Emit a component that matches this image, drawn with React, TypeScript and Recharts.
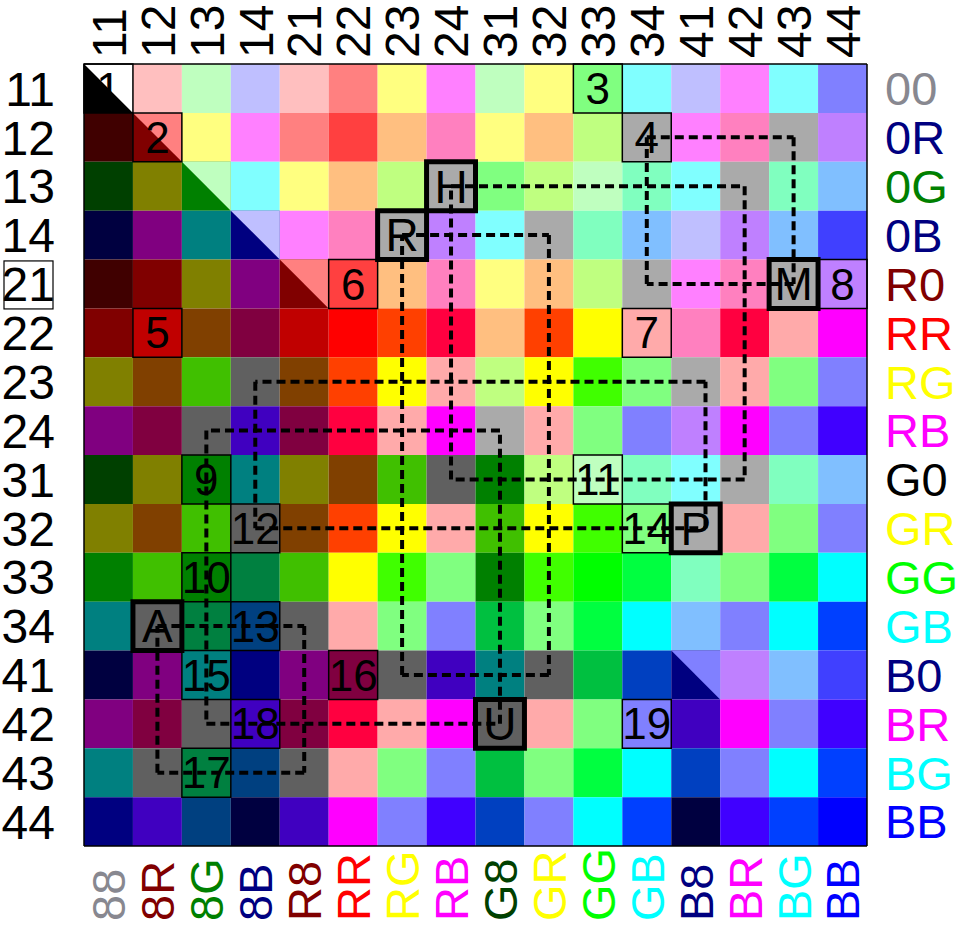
import React from 'react';
import { ComposedChart, XAxis, YAxis, ReferenceArea, ReferenceLine, Scatter } from 'recharts';

const codes = ['11', '12', '13', '14', '21', '22', '23', '24', '31', '32', '33', '34', '41', '42', '43', '44'];

const rightLabels = ['00', '0R', '0G', '0B', 'R0', 'RR', 'RG', 'RB', 'G0', 'GR', 'GG', 'GB', 'B0', 'BR', 'BG', 'BB'];
const rightColors = ['#888890', '#000080', '#008000', '#000080', '#800000', '#ff0000', '#ffff00', '#ff00ff',
  '#000000', '#ffff00', '#00ff00', '#00ffff', '#000080', '#ff00ff', '#00ffff', '#0000ff'];

const bottomLabels = ['88', '8R', '8G', '8B', 'R8', 'RR', 'RG', 'RB', 'G8', 'GR', 'GG', 'GB', 'B8', 'BR', 'BG', 'BB'];
const bottomColors = ['#888890', '#800000', '#008000', '#000080', '#800000', '#ff0000', '#ffff00', '#ff00ff',
  '#004000', '#ffff00', '#00ff00', '#00ffff', '#000080', '#ff00ff', '#00ffff', '#0000ff'];

// one row per row code, one colour per column code
const cellColors = [
  ['#000000', '#ffbfbf', '#bfffbf', '#bfbfff', '#ffbfbf', '#ff8080', '#ffff80', '#ff80ff', '#bfffbf', '#ffff80', '#80ff80', '#80ffff', '#bfbfff', '#ff80ff', '#80ffff', '#8080ff'],
  ['#400000', '#800000', '#ffff80', '#ff80ff', '#ff8080', '#ff4040', '#ffbf80', '#ff80bf', '#ffff80', '#ffbf80', '#bfff80', '#aaaaaa', '#ff80ff', '#ff80bf', '#aaaaaa', '#bf80ff'],
  ['#004000', '#808000', '#008000', '#80ffff', '#ffff80', '#ffbf80', '#bfff80', '#aaaaaa', '#80ff80', '#bfff80', '#bfffbf', '#80ffbf', '#80ffff', '#aaaaaa', '#80ffbf', '#80bfff'],
  ['#000040', '#800080', '#008080', '#000080', '#ff80ff', '#ff80bf', '#aaaaaa', '#bf80ff', '#80ffff', '#aaaaaa', '#80ffbf', '#80bfff', '#bfbfff', '#bf80ff', '#80bfff', '#4040ff'],
  ['#400000', '#800000', '#808000', '#800080', '#800000', '#ff4040', '#ffbf80', '#ff80bf', '#ffff80', '#ffbf80', '#bfff80', '#aaaaaa', '#ff80ff', '#ff80bf', '#aaaaaa', '#bf80ff'],
  ['#800000', '#c00000', '#804000', '#800040', '#c00000', '#ff0000', '#ff4000', '#ff0040', '#ffbf80', '#ff4000', '#ffff00', '#ffaaaa', '#ff80bf', '#ff0040', '#ffaaaa', '#ff00ff'],
  ['#808000', '#804000', '#40c000', '#606060', '#804000', '#ff4000', '#ffff00', '#ffaaaa', '#bfff80', '#ffff00', '#40ff00', '#80ff80', '#aaaaaa', '#ffaaaa', '#80ff80', '#8080ff'],
  ['#800080', '#800040', '#606060', '#4000c0', '#800040', '#ff0040', '#ffaaaa', '#ff00ff', '#aaaaaa', '#ffaaaa', '#80ff80', '#8080ff', '#bf80ff', '#ff00ff', '#8080ff', '#4000ff'],
  ['#004000', '#808000', '#008000', '#008080', '#808000', '#804000', '#40c000', '#606060', '#008000', '#bfff80', '#bfffbf', '#80ffbf', '#80ffff', '#aaaaaa', '#80ffbf', '#80bfff'],
  ['#808000', '#804000', '#40c000', '#606060', '#804000', '#ff4000', '#ffff00', '#ffaaaa', '#40c000', '#ffff00', '#40ff00', '#80ff80', '#aaaaaa', '#ffaaaa', '#80ff80', '#8080ff'],
  ['#008000', '#40c000', '#008000', '#008040', '#40c000', '#ffff00', '#40ff00', '#80ff80', '#008000', '#40ff00', '#00ff00', '#00ff40', '#80ffbf', '#80ff80', '#00ff40', '#00ffff'],
  ['#008080', '#606060', '#008040', '#004080', '#606060', '#ffaaaa', '#80ff80', '#8080ff', '#00c040', '#80ff80', '#00ff40', '#00ffff', '#80bfff', '#8080ff', '#00ffff', '#0040ff'],
  ['#000040', '#800080', '#008080', '#000080', '#800080', '#800040', '#606060', '#4000c0', '#008080', '#606060', '#00c040', '#0040c0', '#000080', '#bf80ff', '#80bfff', '#4040ff'],
  ['#800080', '#800040', '#606060', '#4000c0', '#800040', '#ff0040', '#ffaaaa', '#ff00ff', '#606060', '#ffaaaa', '#80ff80', '#8080ff', '#4000c0', '#ff00ff', '#8080ff', '#4000ff'],
  ['#008080', '#606060', '#008040', '#004080', '#606060', '#ffaaaa', '#80ff80', '#8080ff', '#00c040', '#80ff80', '#00ff40', '#00ffff', '#0040c0', '#8080ff', '#00ffff', '#0040ff'],
  ['#000080', '#4000c0', '#004080', '#000040', '#4000c0', '#ff00ff', '#8080ff', '#4000ff', '#0040c0', '#8080ff', '#00ffff', '#0040ff', '#000040', '#4000ff', '#0040ff', '#0000ff'],
];

// cells cut along the diagonal: upper-right half colour
const splitCells = [
  { col: 0, row: 0, upper: '#ffffff' },
  { col: 1, row: 1, upper: '#ff8080' },
  { col: 2, row: 2, upper: '#bfffbf' },
  { col: 3, row: 3, upper: '#bfbfff' },
  { col: 4, row: 4, upper: '#ff8080' },
  { col: 12, row: 12, upper: '#8080ff' },
];

const numberedCells = [
  { col: 0, row: 0, label: '1' }, { col: 1, row: 1, label: '2' }, { col: 10, row: 0, label: '3' },
  { col: 11, row: 1, label: '4' }, { col: 1, row: 5, label: '5' }, { col: 5, row: 4, label: '6' },
  { col: 11, row: 5, label: '7' }, { col: 15, row: 4, label: '8' }, { col: 2, row: 8, label: '9' },
  { col: 2, row: 10, label: '10' }, { col: 10, row: 8, label: '11' }, { col: 3, row: 9, label: '12' },
  { col: 3, row: 11, label: '13' }, { col: 11, row: 9, label: '14' }, { col: 2, row: 12, label: '15' },
  { col: 5, row: 12, label: '16' }, { col: 2, row: 14, label: '17' }, { col: 3, row: 13, label: '18' },
  { col: 11, row: 13, label: '19' },
];

const letterCells = [
  { col: 7, row: 2, label: 'H' }, { col: 6, row: 3, label: 'R' }, { col: 14, row: 4, label: 'M' },
  { col: 12, row: 9, label: 'P' }, { col: 8, row: 13, label: 'U' }, { col: 1, row: 11, label: 'A' },
];

// dashed loops, corners in (column, row) units
const loops = [
  [[11, 1], [14, 1], [14, 4], [11, 4]],
  [[7, 2], [13, 2], [13, 8], [7, 8]],
  [[6, 3], [9, 3], [9, 12], [6, 12]],
  [[8, 13], [8, 7], [2, 7], [2, 13]],
  [[12.2, 9], [12.2, 6], [3, 6], [3, 9]],
  [[1, 11], [4, 11], [4, 14], [1, 14]],
];

const idx = codes.map((_, i) => i);
const cellPoints = cellColors.flatMap((row, r) => row.map((_, c) => ({ x: c, y: r })));
const FONT = '"Liberation Sans", Arial, sans-serif';

const TopTick = ({ x, payload }: any) => (
  <text x={x} y={58} dy="0.36em" transform={`rotate(-90 ${x} 58)`} textAnchor="start" fontSize={48} fill="#000">
    {codes[payload.value]}
  </text>
);

const BottomTick = ({ x, payload }: any) => (
  <text x={x} y={921} dy="0.36em" transform={`rotate(-90 ${x} 921)`} textAnchor="start" fontSize={47}
    fill={bottomColors[payload.value]}>
    {bottomLabels[payload.value]}
  </text>
);

const LeftTick = ({ y, payload }: any) => (
  <g>
    {payload.value === 4 && <rect x={4} y={y - 23} width={49} height={48} fill="none" stroke="#000" strokeWidth={1.2} />}
    <text x={55} y={y} dy="0.36em" textAnchor="end" fontSize={48} fill="#000">{codes[payload.value]}</text>
  </g>
);

const RightTick = ({ y, payload }: any) => (
  <text x={885} y={y} dy="0.36em" textAnchor="start" fontSize={47} fill={rightColors[payload.value]}>
    {rightLabels[payload.value]}
  </text>
);

const HalfCell = (upper: string) => (props: any) => {
  const { x, y, width, height } = props;
  return <polygon points={`${x},${y} ${x + width},${y} ${x + width},${y + height}`} fill={upper} />;
};

const NoDot = () => null;

export default function App() {
  const axisLine = { stroke: '#000', strokeWidth: 1.5 };
  const ids = { xAxisId: 'top', yAxisId: 'left' };
  return (
    <div style={{ position: 'absolute', left: 0, top: 0, width: 960, height: 925, background: '#fff', fontFamily: FONT }}>
      <ComposedChart width={960} height={925} margin={{ top: 0, right: 0, bottom: 0, left: 0 }}>
        <XAxis xAxisId="top" orientation="top" type="number" dataKey="x" domain={[-0.5, 15.5]} ticks={idx} interval={0}
          height={64} tickLine={false} axisLine={axisLine} tick={<TopTick />} allowDataOverflow />
        <XAxis xAxisId="bottom" orientation="bottom" type="number" dataKey="x" domain={[-0.5, 15.5]} ticks={idx} interval={0}
          height={79} tickLine={false} axisLine={axisLine} tick={<BottomTick />} allowDataOverflow />
        <YAxis yAxisId="left" orientation="left" type="number" dataKey="y" domain={[-0.5, 15.5]} ticks={idx} interval={0}
          reversed width={84} tickLine={false} axisLine={axisLine} tick={<LeftTick />} allowDataOverflow />
        <YAxis yAxisId="right" orientation="right" type="number" dataKey="y" domain={[-0.5, 15.5]} ticks={idx} interval={0}
          reversed width={93} tickLine={false} axisLine={axisLine} tick={<RightTick />} allowDataOverflow />

        <Scatter data={cellPoints} dataKey="y" xAxisId="top" yAxisId="left" shape={<NoDot />} isAnimationActive={false} />
        <Scatter data={cellPoints} dataKey="y" xAxisId="bottom" yAxisId="right" shape={<NoDot />} isAnimationActive={false} />

        {cellColors.map((row, r) =>
          row.map((color, c) => (
            <ReferenceArea key={`c${r}-${c}`} {...ids} x1={c - 0.5} x2={c + 0.5} y1={r - 0.5} y2={r + 0.5}
              fill={color} fillOpacity={1} stroke="none" ifOverflow="visible" />
          ))
        )}

        {splitCells.map((s) => (
          <ReferenceArea key={`s${s.row}-${s.col}`} {...ids} x1={s.col - 0.5} x2={s.col + 0.5} y1={s.row - 0.5} y2={s.row + 0.5}
            ifOverflow="visible" shape={HalfCell(s.upper)} />
        ))}

        {numberedCells.map((n) => (
          <ReferenceArea key={`n${n.label}`} {...ids} x1={n.col - 0.5} x2={n.col + 0.5} y1={n.row - 0.5} y2={n.row + 0.5}
            fill="none" stroke="#000" strokeWidth={1.5} ifOverflow="visible"
            label={{ value: n.label, position: 'center', fontSize: 44, fill: '#000', fontFamily: FONT }} />
        ))}

        {letterCells.map((l) => (
          <ReferenceArea key={`l${l.label}`} {...ids} x1={l.col - 0.5} x2={l.col + 0.5} y1={l.row - 0.5} y2={l.row + 0.5}
            fill={cellColors[l.row][l.col]} fillOpacity={1} stroke="#000" strokeWidth={5} ifOverflow="visible"
            label={{ value: l.label, position: 'center', fontSize: 46, fill: '#000', fontFamily: FONT }} />
        ))}

        {loops.map((loop, i) =>
          loop.map((p, j) => {
            const q = loop[(j + 1) % loop.length];
            return (
              <ReferenceLine key={`d${i}-${j}`} {...ids} segment={[{ x: p[0], y: p[1] }, { x: q[0], y: q[1] }]}
                stroke="#000" strokeWidth={4} strokeDasharray="9 5" ifOverflow="visible" />
            );
          })
        )}
      </ComposedChart>
    </div>
  );
}
